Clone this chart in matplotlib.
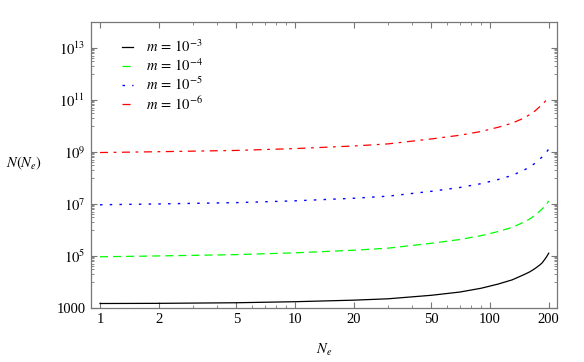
import numpy as np
import matplotlib
matplotlib.use("Agg")
import matplotlib.pyplot as plt
from matplotlib.ticker import FixedLocator, FixedFormatter, NullFormatter

plt.rcParams["font.family"] = ["Liberation Serif", "DejaVu Serif"]
plt.rcParams["mathtext.fontset"] = "stix"
plt.rcParams["lines.scale_dashes"] = False

# values
ne = [1, 2, 5, 10, 20, 30, 50, 70, 90, 110, 130, 150, 160, 170, 180, 185,
      190, 195, 200]
n_m3 = [1450, 1470, 1550, 1700, 1950, 2200, 3000, 4000, 5600, 8100, 11800,
        19000, 24000, 32000, 44000, 53000, 69000, 91000, 125000]
n_m4 = [9.1e4, 9.8e4, 1.1e5, 1.29e5, 1.62e5, 1.95e5, 3.0e5, 4.2e5, 5.9e5,
        8.5e5, 1.23e6, 2.0e6, 2.6e6, 3.6e6, 5.2e6, 6.3e6, 7.8e6, 9.8e6, 1.26e7]
n_m5 = [9.1e6, 9.8e6, 1.1e7, 1.29e7, 1.62e7, 1.95e7, 3.0e7, 4.2e7, 5.9e7,
        8.5e7, 1.23e8, 2.0e8, 2.6e8, 3.6e8, 5.2e8, 6.3e8, 7.8e8, 9.8e8, 1.26e9]
n_m6 = [9.3e8, 1.0e9, 1.12e9, 1.32e9, 1.66e9, 2.0e9, 3.1e9, 4.3e9, 6.0e9,
        8.7e9, 1.26e10, 2.0e10, 2.7e10, 3.7e10, 5.4e10, 6.5e10, 8.0e10,
        1.0e11, 1.3e11]
labels = [r"$m\,=\,10^{-3}$", r"$m\,=\,10^{-4}$", r"$m\,=\,10^{-5}$", r"$m\,=\,10^{-6}$"]

x_major = [1, 2, 5, 10, 20, 50, 100, 200]
x_minor = [3, 4, 6, 7, 8, 9, 30, 40, 60, 70, 80, 90]
y_major = [1e3, 1e5, 1e7, 1e9, 1e11, 1e13]
y_major_labels = ["1000", r"$10^{5}$", r"$10^{7}$", r"$10^{9}$", r"$10^{11}$", r"$10^{13}$"]
y_minor = [k * 10.0 ** e for e in [4, 6, 8, 10, 12] for k in range(1, 10)]

fig = plt.figure(figsize=(5.84, 3.62), dpi=100)
ax = fig.add_axes([0.1558, 0.150, 0.7975, 0.790])

ax.plot(ne, n_m3, color="black", lw=0.9, label=labels[0])
ax.plot(ne, n_m4, color="#00ff00", lw=0.9, dashes=(5.8, 3.6), label=labels[1])
ax.plot(ne, n_m5, color="#0000ff", lw=1.0, dashes=(1.8, 5.2), label=labels[2])
ax.plot(ne, n_m6, color="#ff0000", lw=0.9, dashes=(5.8, 4.0, 2.0, 4.0), label=labels[3])

ax.set_xscale("log")
ax.set_yscale("log")
ax.set_xlim(0.899, 219.8)
ax.set_ylim(1e3, 1e14)

ax.xaxis.set_major_locator(FixedLocator(x_major))
ax.xaxis.set_major_formatter(FixedFormatter([str(v) for v in x_major]))
ax.xaxis.set_minor_locator(FixedLocator(x_minor))
ax.xaxis.set_minor_formatter(NullFormatter())
ax.yaxis.set_major_locator(FixedLocator(y_major))
ax.yaxis.set_major_formatter(FixedFormatter(y_major_labels))
ax.yaxis.set_minor_locator(FixedLocator(y_minor))
ax.yaxis.set_minor_formatter(NullFormatter())

frame = "#777777"
for s in ax.spines.values():
    s.set_color(frame)
    s.set_linewidth(0.9)
ax.tick_params(which="both", direction="in", top=True, right=True, color=frame,
               labelsize=10.5, labelcolor="black")
ax.tick_params(which="major", length=4.5, width=0.8, pad=4)
ax.tick_params(which="minor", length=2.5, width=0.6)

ax.set_xlabel(r"$N_e$", fontsize=10.5, va="center")
ax.xaxis.set_label_coords(0.5, -0.148)
ax.set_ylabel(r"$N(N_e)$", fontsize=10.5, rotation=0, ha="center", va="center")
ax.yaxis.set_label_coords(-0.144, 0.506)

ax.legend(loc="upper left", bbox_to_anchor=(0.066, 0.94), frameon=False,
          fontsize=10.5, handlelength=0.75, handletextpad=0.9,
          labelspacing=0.13, borderaxespad=0, borderpad=0)

fig.savefig("out.png", dpi=100)
